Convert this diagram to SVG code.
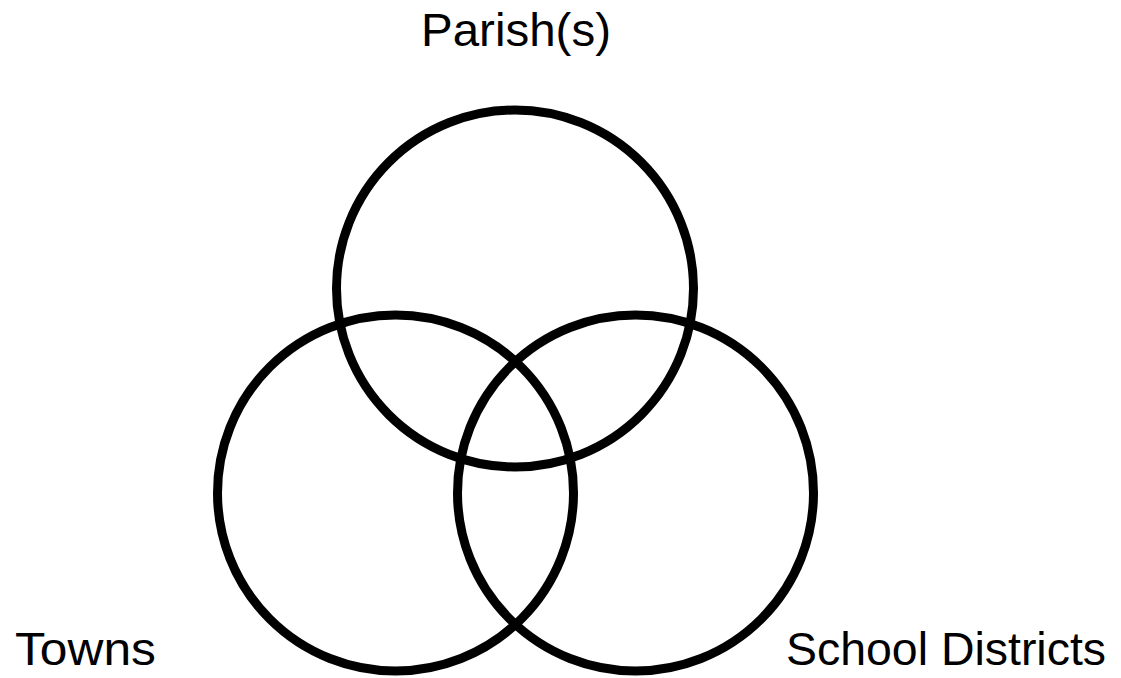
<svg xmlns="http://www.w3.org/2000/svg" width="1121" height="678" viewBox="0 0 1121 678">
<style>
.c{fill:none;stroke:#000;stroke-width:9}
.t{font-family:"Liberation Sans",Arial,sans-serif;font-size:46px;fill:#000}
</style>
<rect width="1121" height="678" fill="#fff"/>
<g id="parish"><circle class="c" cx="515" cy="288.5" r="178.5"/><text class="t" x="516" y="46" text-anchor="middle" textLength="190" lengthAdjust="spacingAndGlyphs">Parish(s)</text></g>
<g id="towns"><circle class="c" cx="395.5" cy="493" r="178"/><text class="t" x="15" y="665" textLength="141" lengthAdjust="spacingAndGlyphs">Towns</text></g>
<g id="school"><circle class="c" cx="635.5" cy="493" r="178"/><text class="t" x="786" y="665" textLength="320" lengthAdjust="spacingAndGlyphs">School Districts</text></g>
<g id="connectors"/>
</svg>
